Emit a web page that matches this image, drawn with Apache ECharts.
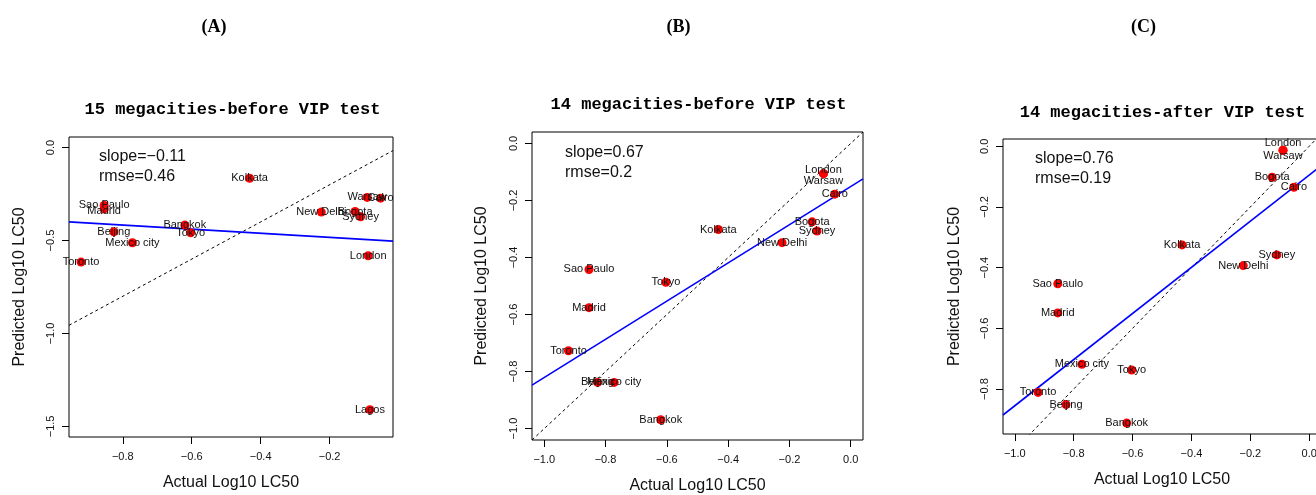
<!DOCTYPE html>
<html>
<head>
<meta charset="utf-8">
<script src="https://cdn.jsdelivr.net/npm/echarts@6/dist/echarts.min.js"></script>
<style>html,body{margin:0;padding:0;background:#fff}#c{width:1316px;height:495px}</style>
</head>
<body>
<div id="c"></div>
<script>
// ---- data ----
const panelLetters = ['(A)', '(B)', '(C)'];
const panelTitles = ['15 megacities-before VIP test', '14 megacities-before VIP test', '14 megacities-after VIP test'];
const xAxisName = 'Actual Log10 LC50';
const yAxisName = 'Predicted Log10 LC50';

const cities15 = ['Kolkata', 'Sao Paulo', 'Madrid', 'Bangkok', 'Tokyo', 'Beijing', 'Mexico city', 'Toronto', 'Warsaw', 'Cairo', 'New Delhi', 'Bogota', 'Sydney', 'London', 'Lagos'];
const actual15 = [-0.432, -0.854, -0.854, -0.620, -0.603, -0.826, -0.772, -0.921, -0.091, -0.052, -0.224, -0.126, -0.110, -0.088, -0.083];
const predictedA = [-0.165, -0.311, -0.330, -0.417, -0.458, -0.453, -0.512, -0.616, -0.268, -0.272, -0.347, -0.344, -0.372, -0.582, -1.410];

const cities14 = ['Kolkata', 'Sao Paulo', 'Madrid', 'Bangkok', 'Tokyo', 'Beijing', 'Mexico city', 'Toronto', 'Warsaw', 'Cairo', 'New Delhi', 'Bogota', 'Sydney', 'London'];
const actual14 = [-0.432, -0.854, -0.854, -0.620, -0.603, -0.826, -0.772, -0.921, -0.089, -0.052, -0.224, -0.126, -0.110, -0.089];
const predictedB = [-0.302, -0.442, -0.576, -0.969, -0.487, -0.838, -0.838, -0.727, -0.106, -0.178, -0.348, -0.275, -0.307, -0.106];
const predictedC = [-0.325, -0.453, -0.549, -0.912, -0.737, -0.851, -0.718, -0.811, -0.013, -0.135, -0.393, -0.102, -0.358, -0.013];

// fitted regression lines: [intercept, slope]
const fitA = [-0.505, -0.11];
const fitB = [-0.151, 0.67];
const fitC = [-0.095, 0.76];

const statsText = [['slope=\u22120.11', 'rmse=0.46'], ['slope=0.67', 'rmse=0.2'], ['slope=0.76', 'rmse=0.19']];

const xTicksA = [-0.8, -0.6, -0.4, -0.2];
const yTicksA = [0, -0.5, -1.0, -1.5];
const xTicksBC = [-1.0, -0.8, -0.6, -0.4, -0.2, 0];
const yTicksB = [0, -0.2, -0.4, -0.6, -0.8, -1.0];
const yTicksC = [0, -0.2, -0.4, -0.6, -0.8];

// ---- layout / style (not data) ----
const panels = [
  {grid: {left: 69, top: 137, width: 324, height: 300}, xr: [-0.956, -0.016], yr: [-1.557, 0.057],
   xt: xTicksA, yt: yTicksA, cities: cities15, xs: actual15, ys: predictedA, fit: fitA,
   xGap: 38, yGap: 41, letterX: 217.5, titleX: 232.5, titleY: 110, statX: 99, statY: 157},
  {grid: {left: 532, top: 132, width: 331, height: 308}, xr: [-1.04, 0.04], yr: [-1.04, 0.04],
   xt: xTicksBC, yt: yTicksB, cities: cities14, xs: actual14, ys: predictedB, fit: fitB,
   xGap: 38, yGap: 42, letterX: 682.5, titleX: 698.5, titleY: 105, statX: 565, statY: 153},
  {grid: {left: 1003, top: 139, width: 318, height: 295}, xr: [-1.04, 0.04], yr: [-0.948, 0.024],
   xt: xTicksBC, yt: yTicksC, cities: cities14, xs: actual14, ys: predictedC, fit: fitC,
   xGap: 38, yGap: 40, letterX: 1147, titleX: 1162.5, titleY: 113, statX: 1035, statY: 159}
];
const labelShift = [{Madrid: 2}, {London: -4, Warsaw: 7}, {London: -7, Warsaw: 6}];

const fmt = v => (v < 0 ? '\u2212' : '') + Math.abs(v).toFixed(1);
const SANS = 'Liberation Sans, Arial, sans-serif';

const grids = [], xAxes = [], yAxes = [], series = [], graphics = [];
panels.forEach((p, i) => {
  grids.push(Object.assign({show: true, borderColor: '#000', borderWidth: 1, backgroundColor: 'transparent', containLabel: false, outerBoundsMode: 'none'}, p.grid));
  xAxes.push({
    type: 'value', gridIndex: i, min: p.xr[0], max: p.xr[1], position: 'bottom',
    name: xAxisName, nameLocation: 'middle', nameGap: p.xGap,
    nameTextStyle: {fontSize: 16, fontFamily: SANS, color: '#111'},
    axisLine: {show: false, onZero: false},
    axisTick: {show: true, length: 7, lineStyle: {color: '#000'}, customValues: p.xt},
    axisLabel: {fontSize: 11, fontFamily: SANS, color: '#111', margin: 14, customValues: p.xt, formatter: fmt, showMinLabel: true, showMaxLabel: true},
    splitLine: {show: false}
  });
  yAxes.push({
    type: 'value', gridIndex: i, min: p.yr[0], max: p.yr[1], position: 'left',
    name: yAxisName, nameLocation: 'middle', nameGap: p.yGap,
    nameTextStyle: {fontSize: 16, fontFamily: SANS, color: '#111'},
    axisLine: {show: false, onZero: false},
    axisTick: {show: true, length: 7, lineStyle: {color: '#000'}, customValues: p.yt},
    axisLabel: {fontSize: 11, fontFamily: SANS, color: '#111', margin: 13, rotate: 90, customValues: p.yt, formatter: fmt},
    splitLine: {show: false}
  });
  // 1:1 dashed line
  series.push({
    type: 'line', xAxisIndex: i, yAxisIndex: i, symbol: 'none', clip: true, silent: true, z: 1,
    lineStyle: {color: '#000', width: 1, type: [3, 3]},
    data: [[p.xr[0], p.xr[0]], [p.xr[1], p.xr[1]]]
  });
  // fitted line
  series.push({
    type: 'line', xAxisIndex: i, yAxisIndex: i, symbol: 'none', clip: true, silent: true, z: 2,
    lineStyle: {color: '#0000ff', width: 1.6},
    data: [[p.xr[0], p.fit[0] + p.fit[1] * p.xr[0]], [p.xr[1], p.fit[0] + p.fit[1] * p.xr[1]]]
  });
  // points
  const shifts = labelShift[i];
  series.push({
    type: 'scatter', xAxisIndex: i, yAxisIndex: i, symbol: 'circle', symbolSize: 9, z: 3, clip: false,
    itemStyle: {color: '#ff0000', opacity: 1},
    label: {show: true, position: 'inside', formatter: '{b}', fontSize: 11, fontFamily: SANS, color: '#111'},
    labelLayout: function (params) {
      const name = p.cities[params.dataIndex];
      return {hideOverlap: false, dy: shifts[name] || 0};
    },
    emphasis: {disabled: true},
    data: p.cities.map((c, k) => ({name: c, value: [p.xs[k], p.ys[k]]}))
  });
  graphics.push({type: 'text', left: p.letterX - 16, top: 18, style: {text: panelLetters[i], font: 'bold 18px "Liberation Serif", serif', fill: '#000'}});
  graphics.push({type: 'text', x: p.titleX, y: p.titleY, style: {text: panelTitles[i], font: 'bold 17px "Liberation Mono", monospace', fill: '#000', align: 'center', verticalAlign: 'middle'}});
  graphics.push({type: 'text', x: p.statX, y: p.statY, style: {text: statsText[i][0], font: '16px "Liberation Sans", Arial', fill: '#111', align: 'left', verticalAlign: 'middle'}});
  graphics.push({type: 'text', x: p.statX, y: p.statY + 20, style: {text: statsText[i][1], font: '16px "Liberation Sans", Arial', fill: '#111', align: 'left', verticalAlign: 'middle'}});
});

const chart = echarts.init(document.getElementById('c'), null, {renderer: 'canvas'});
chart.setOption({
  animation: false,
  backgroundColor: '#fff',
  grid: grids, xAxis: xAxes, yAxis: yAxes, series: series, graphic: graphics
});
</script>
</body>
</html>
